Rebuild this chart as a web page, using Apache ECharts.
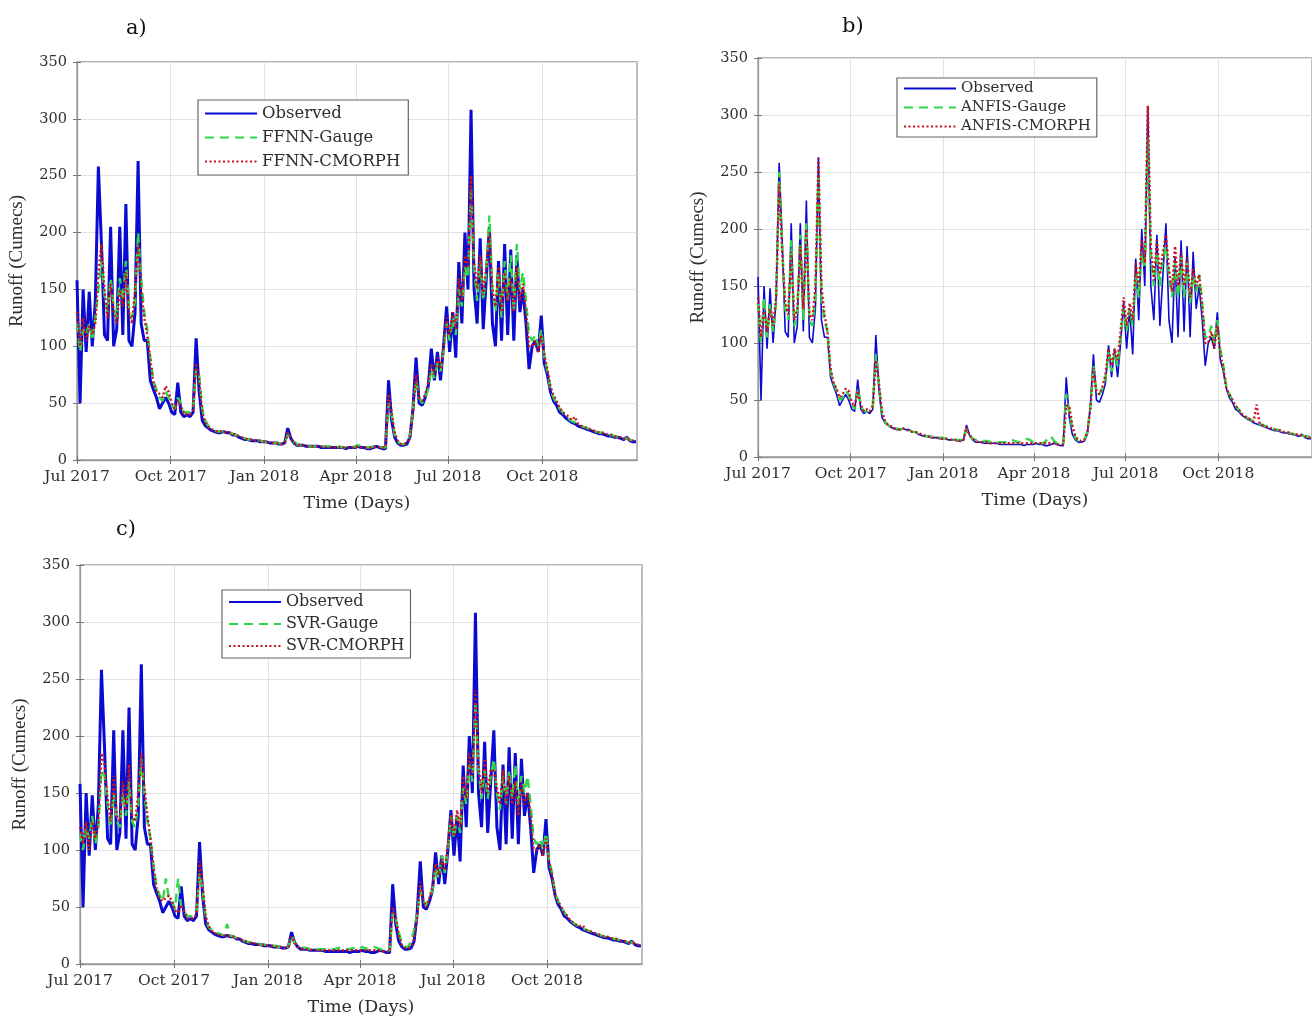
<!DOCTYPE html>
<html><head><meta charset="utf-8">
<script src="https://cdn.jsdelivr.net/npm/echarts@6/dist/echarts.min.js"></script>
<style>html,body{margin:0;padding:0;background:#fff}#c{width:1312px;height:1017px}</style>
</head><body><div id="c"></div>
<script>
// Sampling: every 3 days starting 1 Jul 2017 (x = days since 1 Jul 2017)
const STEP_DAYS = 3;
const TICK_LABELS = ['Jul 2017','Oct 2017','Jan 2018','Apr 2018','Jul 2018','Oct 2018'];
const TICK_DAYS = [0, 92, 184, 274, 365, 457];
const X_END_DAY = 550;

const OBSERVED = [
158,50,150,95,148,100,140,258,190,110,
105,205,100,115,205,110,225,105,100,130,
263,120,105,105,70,62,55,45,50,55,
50,42,40,68,42,38,40,38,42,107,
60,35,30,28,26,25,24,24,25,24,
24,22,22,20,19,18,18,17,17,17,
16,16,16,15,15,15,14,14,15,28,
19,15,13,13,13,12,12,12,12,12,
11,11,11,11,11,11,11,11,10,11,
11,11,12,11,11,10,10,11,12,11,
10,10,70,35,20,15,13,13,14,20,
45,90,50,48,55,65,98,70,95,70,
100,135,95,130,90,174,120,200,150,308,
150,120,195,115,160,205,120,100,175,105,
190,110,185,105,180,130,150,120,80,100,
105,95,127,85,75,60,52,48,42,40,
37,35,33,32,30,29,28,27,26,25,
24,23,23,22,21,21,20,20,19,18,
20,17,16,16];

const FFNN_GAUGE = [
120,95,115,110,120,105,125,150,175,145,
130,160,135,125,160,140,175,135,125,140,
200,160,130,115,90,70,62,55,52,60,
55,48,45,55,50,42,42,42,45,80,
75,45,35,30,28,26,25,25,25,25,
24,23,22,21,20,19,18,18,17,17,
17,16,16,16,15,15,15,14,15,22,
20,16,14,13,13,13,12,12,12,12,
12,12,12,12,11,11,12,11,11,11,
11,12,13,12,11,11,11,12,13,12,
11,11,50,40,22,16,14,14,15,22,
45,70,55,50,55,62,80,72,85,78,
95,120,105,125,110,150,135,170,160,240,
170,140,175,140,165,215,150,130,165,125,
175,140,180,130,190,150,165,140,110,105,
110,100,115,90,78,62,55,50,45,42,
38,36,34,33,31,30,29,28,27,26,
25,24,24,23,22,22,21,20,20,19,
19,18,17,17];

const FFNN_CMORPH = [
130,100,125,105,118,110,120,165,190,150,
125,155,130,120,150,135,165,130,120,150,
190,150,125,110,88,68,60,58,55,65,
60,50,45,52,48,40,40,40,44,85,
70,42,33,29,27,26,25,25,25,24,
24,23,22,21,20,19,18,18,17,17,
17,16,16,15,15,15,15,14,15,24,
19,15,14,13,13,12,12,12,12,12,
12,12,11,11,11,11,11,11,11,11,
11,11,12,11,11,11,11,11,12,11,
11,11,58,42,24,17,14,14,15,21,
42,75,55,52,58,68,85,75,90,80,
100,125,110,130,115,160,140,180,170,250,
175,150,180,145,170,200,150,135,170,130,
165,140,160,130,170,140,155,130,100,100,
105,95,110,92,80,65,57,52,46,42,
40,38,35,38,32,30,29,28,27,26,
25,24,24,23,22,22,21,20,20,19,
19,18,17,17];

const ANFIS_GAUGE = [
135,100,140,105,135,110,135,250,185,130,
120,190,115,125,195,120,205,120,115,140,
245,140,120,110,75,65,58,50,52,58,
55,46,42,60,45,40,40,40,44,90,
65,38,31,28,26,25,25,24,25,24,
24,22,22,21,20,19,18,18,18,17,
17,17,16,16,16,15,15,15,15,25,
20,16,15,14,14,14,14,13,13,13,
13,13,13,14,15,14,13,13,14,16,
15,13,13,12,12,13,17,18,14,12,
11,11,55,40,25,17,14,14,15,22,
45,80,55,55,60,70,92,75,92,80,
105,130,110,130,115,160,140,180,165,280,
175,150,180,150,175,185,160,140,170,140,
175,140,170,135,160,145,160,135,105,105,
115,100,120,95,80,62,55,50,45,42,
38,36,34,33,31,30,29,28,27,26,
25,24,24,23,22,22,21,20,20,19,
19,18,18,17];

const ANFIS_CMORPH = [
140,105,130,110,130,115,140,240,180,135,
125,180,120,130,185,130,200,125,120,150,
262,150,125,110,78,65,60,52,55,60,
58,48,44,58,46,40,42,40,45,85,
65,40,32,28,27,25,25,24,25,24,
23,22,22,21,20,19,18,18,17,17,
17,16,16,16,15,15,15,14,15,26,
19,16,14,13,13,13,13,12,12,12,
12,12,12,12,12,12,12,12,12,12,
12,12,12,12,12,12,12,12,12,11,
11,11,45,45,28,18,15,14,15,22,
42,78,58,55,62,72,95,80,95,85,
110,140,115,135,120,170,150,190,170,308,
185,155,190,160,180,195,165,145,185,150,
180,150,175,140,165,150,160,130,100,100,
110,95,115,90,78,60,55,50,45,42,
38,36,34,33,31,46,29,28,27,26,
25,24,24,23,22,22,21,20,20,19,
19,18,17,17];

const SVR_GAUGE = [
115,100,120,110,130,105,120,170,165,140,
120,150,125,120,150,130,160,125,120,140,
180,150,125,110,85,68,60,55,75,58,
55,48,75,50,46,42,42,42,45,80,
65,40,32,30,28,27,26,25,35,25,
24,23,22,21,20,19,19,18,18,17,
17,17,16,16,16,15,15,15,15,25,
19,16,15,14,14,13,13,13,13,13,
13,13,13,13,14,14,13,13,13,14,
13,13,15,14,13,13,15,14,13,12,
12,12,45,40,28,18,15,15,20,30,
45,65,55,52,58,65,85,75,95,80,
100,130,110,130,115,155,140,175,160,230,
170,145,170,145,165,180,150,135,165,140,
170,145,175,140,165,150,165,140,110,105,
110,100,115,92,80,62,55,50,45,42,
38,36,34,33,31,30,29,28,27,26,
25,24,24,23,22,22,21,20,20,19,
19,18,18,17];

const SVR_CMORPH = [
120,105,125,100,125,110,125,185,175,145,
125,165,130,125,160,135,175,130,125,150,
185,155,130,110,85,65,58,55,58,60,
55,47,45,52,46,40,40,40,44,90,
70,42,33,29,27,26,25,25,25,24,
24,23,22,21,20,19,18,18,17,17,
17,16,16,16,15,15,15,14,15,24,
19,15,14,13,13,13,12,12,12,12,
12,12,12,12,12,12,12,12,12,12,
12,12,12,12,12,12,12,12,12,11,
11,11,50,42,25,17,14,14,15,22,
42,72,55,50,58,68,88,78,92,82,
105,130,112,135,120,165,145,185,165,240,
175,150,180,150,170,170,155,140,170,140,
165,140,160,130,160,140,150,130,100,100,
105,95,110,90,78,60,55,50,45,42,
38,36,34,33,34,30,29,28,27,26,
25,24,24,23,22,22,21,20,20,19,
19,18,17,17];

const PANELS = [
  {tag:'a)', model:'FFNN', gauge:FFNN_GAUGE, cmorph:FFNN_CMORPH},
  {tag:'b)', model:'ANFIS', gauge:ANFIS_GAUGE, cmorph:ANFIS_CMORPH},
  {tag:'c)', model:'SVR', gauge:SVR_GAUGE, cmorph:SVR_CMORPH}
];

// ---------- build ----------
const xs = OBSERVED.map((_, i) => i * STEP_DAYS);
const labelFor = {};
TICK_DAYS.forEach((t, i) => labelFor[t] = TICK_LABELS[i]);
const pair = arr => arr.map((v, i) => [xs[i], v]);

const FONT = 'DejaVu Serif';
const FONT_V = 'Liberation Serif';
const TXT = '#2e2e2e';
const FRAME = '#9a9a9a';
const layout = [
  {grid:{left:77, top:62, width:560, height:398}, tagPos:[121,13], leg:{left:198, top:100, gap:7, fs:16.5, pad:[5,8,5,6]}, obsW:3},
  {grid:{left:758, top:58, width:560, height:399}, tagPos:[837,11], leg:{left:897, top:78, gap:4, fs:15, pad:[3,6,3,6]}, obsW:1.6},
  {grid:{left:80, top:565, width:562, height:400}, tagPos:[111,514], leg:{left:222, top:590, gap:6, fs:16, pad:[4,6,4,6]}, obsW:3}
];

const grids = [], xAxes = [], yAxes = [], series = [], legends = [], titles = [];
PANELS.forEach((p, k) => {
  const L = layout[k];
  grids.push(Object.assign({show:true, borderColor:FRAME, borderWidth:1.3, containLabel:false}, L.grid));
  xAxes.push({
    type:'value', gridIndex:k, min:0, max:X_END_DAY,
    name:'Time (Days)', nameLocation:'middle', nameGap:34,
    nameTextStyle:{fontFamily:FONT, fontSize:17.5, color:TXT},
    axisLine:{show:true, lineStyle:{color:FRAME, width:1.3}},
    axisTick:{show:true, inside:true, length:4, customValues:TICK_DAYS, lineStyle:{color:'#777'}},
    axisLabel:{customValues:TICK_DAYS, formatter:v => labelFor[v] || '', fontFamily:FONT, fontSize:15.5, color:TXT, margin:9, hideOverlap:false, showMinLabel:true},
    splitLine:{show:true, lineStyle:{color:'#e2e2e2', width:1}}
  });
  yAxes.push({
    type:'value', gridIndex:k, min:0, max:350, interval:50,
    name:'Runoff (Cumecs)', nameLocation:'middle', nameGap:50,
    nameTextStyle:{fontFamily:FONT_V, fontSize:19, color:TXT},
    axisLine:{show:true, lineStyle:{color:FRAME, width:1.3}},
    axisTick:{show:true, inside:true, length:4, lineStyle:{color:'#777'}},
    axisLabel:{fontFamily:FONT, fontSize:14.5, color:TXT, margin:10},
    splitLine:{show:true, lineStyle:{color:'#e2e2e2', width:1}}
  });
  const names = ['Observed', p.model + '-Gauge', p.model + '-CMORPH'];
  series.push({
    name:names[0], type:'line', xAxisIndex:k, yAxisIndex:k, data:pair(OBSERVED),
    symbol:'none', lineStyle:{color:'#0a0ad0', width:L.obsW}, itemStyle:{color:'#0a0ad0'}, z:2
  });
  series.push({
    name:names[1], type:'line', xAxisIndex:k, yAxisIndex:k, data:pair(p.gauge),
    symbol:'none', lineStyle:{color:'#2fd84a', width:2.4, type:[9,6]}, itemStyle:{color:'#2fd84a'}, z:3
  });
  series.push({
    name:names[2], type:'line', xAxisIndex:k, yAxisIndex:k, data:pair(p.cmorph),
    symbol:'none', lineStyle:{color:'#c8141c', width:2.4, type:[2,2.5]}, itemStyle:{color:'#c8141c'}, z:4
  });
  legends.push({
    data:names, orient:'vertical', left:L.leg.left, top:L.leg.top,
    backgroundColor:'#fff', borderColor:'#666', borderWidth:1.2, padding:L.leg.pad,
    itemWidth:52, itemHeight:14, itemGap:L.leg.gap,
    itemStyle:{opacity:0},
    textStyle:{fontFamily:FONT, fontSize:L.leg.fs, color:TXT},
    selectedMode:false
  });
  titles.push({text:p.tag, left:L.tagPos[0], top:L.tagPos[1],
    textStyle:{fontFamily:FONT, fontSize:21, fontWeight:'normal', color:'#111'}});
});
// mirror axes (top / right) carrying the inner ticks of the box
PANELS.forEach((p, k) => {
  xAxes.push({
    type:'value', gridIndex:k, position:'top', min:0, max:X_END_DAY,
    axisLine:{show:false}, axisLabel:{show:false}, splitLine:{show:false},
    axisTick:{show:true, inside:true, length:4, customValues:TICK_DAYS, lineStyle:{color:'#777'}}
  });
  yAxes.push({
    type:'value', gridIndex:k, position:'right', min:0, max:350, interval:50,
    axisLine:{show:false}, axisLabel:{show:false}, splitLine:{show:false},
    axisTick:{show:true, inside:true, length:4, lineStyle:{color:'#777'}}
  });
});

const chart = echarts.init(document.getElementById('c'), null, {renderer:'canvas'});
chart.setOption({
  animation:false, backgroundColor:'#fff',
  title:titles, grid:grids, xAxis:xAxes, yAxis:yAxes, legend:legends, series:series
});
</script></body></html>
